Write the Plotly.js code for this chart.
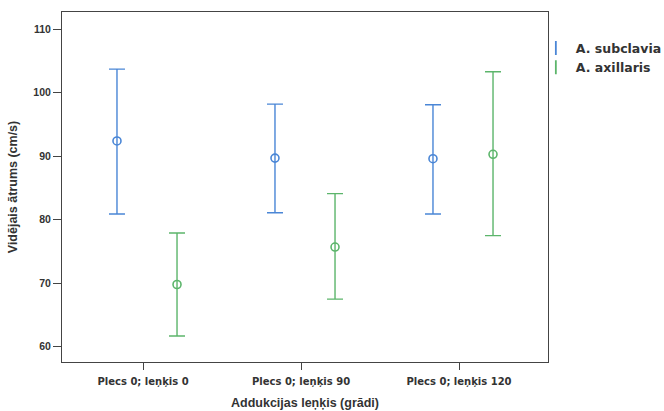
<!DOCTYPE html>
<html>
<head>
<meta charset="utf-8">
<script src="https://cdn.plot.ly/plotly-3.0.1.min.js"></script>
<style>html,body{margin:0;padding:0;background:#fff;}#chart{width:664px;height:411px;}</style>
</head>
<body>
<div id="chart"></div>
<script>
const categories = ['Plecs 0; leņķis 0', 'Plecs 0; leņķis 90', 'Plecs 0; leņķis 120'];
const seriesNames = ['A. subclavia', 'A. axillaris'];
const subclaviaMean = [92.4, 89.7, 89.6];
const subclaviaUpper = [103.7, 98.2, 98.1];
const subclaviaLower = [80.9, 81.1, 80.9];
const axillarisMean = [69.8, 75.7, 90.3];
const axillarisUpper = [77.9, 84.1, 103.3];
const axillarisLower = [61.7, 67.5, 77.5];
const yTicks = [60, 70, 80, 90, 100, 110];

const colors = ['#4a86d6', '#5cb56b'];
const offsets = [-0.165, 0.215];
const idx = categories.map((c, i) => i);

function errTrace(name, mean, upper, lower, color, off) {
  return {
    type: 'scatter', mode: 'markers', name: name, showlegend: false,
    x: idx.map(i => i + off), y: mean,
    marker: {symbol: 'circle-open', size: 8, color: color, line: {width: 1.6, color: color}},
    error_y: {type: 'data', symmetric: false,
      array: upper.map((u, i) => u - mean[i]),
      arrayminus: lower.map((l, i) => mean[i] - l),
      color: color, thickness: 1.4, width: 8}
  };
}
function legendTrace(name, color) {
  return {
    type: 'scatter', mode: 'markers', name: name, x: [null], y: [null],
    marker: {symbol: 'line-ns-open', size: 10, color: color, line: {width: 1.8, color: color}}
  };
}

const data = [
  errTrace(seriesNames[0], subclaviaMean, subclaviaUpper, subclaviaLower, colors[0], offsets[0]),
  errTrace(seriesNames[1], axillarisMean, axillarisUpper, axillarisLower, colors[1], offsets[1]),
  legendTrace(seriesNames[0], colors[0]),
  legendTrace(seriesNames[1], colors[1])
];

const layout = {
  width: 664, height: 411,
  margin: {l: 62, r: 116, t: 12, b: 49, autoexpand: false},
  paper_bgcolor: '#fff', plot_bgcolor: '#fff',
  font: {family: 'Liberation Sans, Arial, sans-serif', color: '#333', size: 11},
  xaxis: {
    range: [-0.513, 2.563], tickvals: idx, ticktext: categories,
    showline: true, mirror: true, linecolor: '#444', linewidth: 1,
    ticks: 'outside', ticklen: 7, tickcolor: '#444', showgrid: false, zeroline: false,
    ticklabelstandoff: 3,
    tickfont: {family: 'DejaVu Sans, sans-serif', size: 10, color: '#333', weight: 'bold'},
    title: {text: 'Addukcijas leņķis (grādi)', standoff: 12,
      font: {family: 'Liberation Sans, Arial, sans-serif', size: 12.5, color: '#333', weight: 'bold'}}
  },
  yaxis: {
    range: [57.6, 112.7], tickvals: yTicks,
    showline: true, mirror: true, linecolor: '#444', linewidth: 1,
    ticks: 'outside', ticklen: 8, tickcolor: '#444', showgrid: false, zeroline: false,
    tickfont: {family: 'Liberation Sans, Arial, sans-serif', size: 10.5, color: '#333', weight: 'bold'},
    title: {text: 'Vidējais ātrums (cm/s)', standoff: 12,
      font: {family: 'Liberation Sans, Arial, sans-serif', size: 12.5, color: '#333', weight: 'bold'}}
  },
  legend: {
    x: 0.975, xanchor: 'left', y: 0.939, yanchor: 'top',
    bgcolor: 'rgba(0,0,0,0)', itemwidth: 30, tracegroupgap: 0,
    font: {family: 'DejaVu Sans, sans-serif', size: 12.5, color: '#333', weight: 'bold'}
  },
  showlegend: true
};

Plotly.newPlot('chart', data, layout, {displayModeBar: false, staticPlot: true});
</script>
</body>
</html>
